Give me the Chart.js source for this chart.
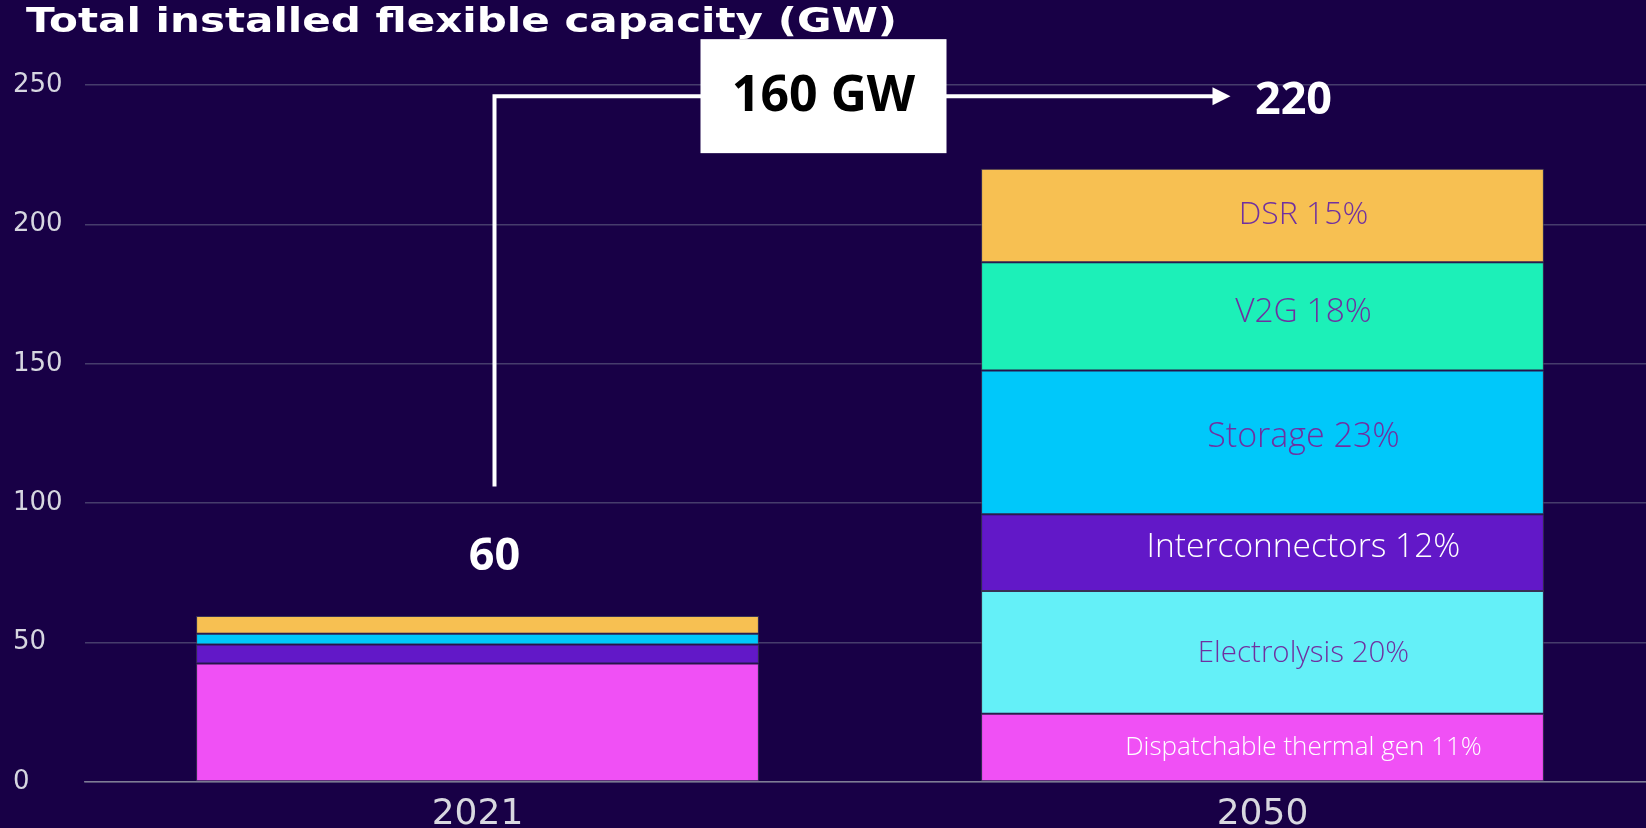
<!DOCTYPE html>
<html>
<head>
<meta charset="utf-8">
<script src="https://cdn.jsdelivr.net/npm/chart.js@4.4.1/dist/chart.umd.min.js"></script>
<style>
  html, body { margin: 0; padding: 0; background: #180046; overflow: hidden; }
  #chart { display: block; }
</style>
</head>
<body>
<canvas id="chart" width="1655" height="828"></canvas>
<script>
// data (GW)
var years = ['2021', '2050'];
var dispatchable = [42.5, 24.5];
var electrolysis = [0, 44];
var interconnectors = [6.8, 27.5];
var storage = [3.9, 51.6];
var v2g = [0, 38.8];
var dsr = [6.3, 33.6];
var yTicks = [0, 50, 100, 150, 200, 250];

var seriesNames = ['Dispatchable thermal gen', 'Electrolysis', 'Interconnectors', 'Storage', 'V2G', 'DSR'];
var shareLabels = ['Dispatchable thermal gen 11%', 'Electrolysis 20%', 'Interconnectors 12%', 'Storage 23%', 'V2G 18%', 'DSR 15%'];
var totalLabels = ['60', '220'];
var growthLabel = '160 GW';

var colors = ['#f050f5', '#64f0f8', '#6218c8', '#00c8fa', '#1cf0b8', '#f7c052'];
var labelColors = ['#ffffff', '#7030a0', '#ffffff', '#7030a0', '#7030a0', '#7030a0'];
var labelSizes = [26, 29.5, 33.5, 34, 33.5, 32];
var labelShift = [0, 1, -5, -5, -4, -1];

var bg = '#180046';

// background + title (stretched a little, like the original slide)
var backdrop = {
    id: 'backdrop',
    beforeDraw: function(chart) {
        var ctx = chart.ctx;
        var title = 'Total installed flexible capacity (GW)';
        ctx.save();
        ctx.fillStyle = bg;
        ctx.fillRect(0, 0, chart.width, chart.height);
        ctx.fillStyle = '#ffffff';
        ctx.font = 'bold 34px "DejaVu Sans"';
        ctx.textBaseline = 'middle';
        ctx.textAlign = 'left';
        var w = ctx.measureText(title).width;
        ctx.translate(26, 23);
        ctx.scale(871 / w, 1);
        ctx.fillText(title, 0, 0);
        ctx.restore();
    }
};

// segment labels, totals and the growth arrow
var annotate = {
    id: 'annotate',
    afterDatasetsDraw: function(chart) {
        var ctx = chart.ctx;
        var y = chart.scales.y;
        var bars0 = chart.getDatasetMeta(0).data;
        var x2021 = bars0[0].x, x2050 = bars0[1].x;
        ctx.save();

        // labels inside 2050 bar
        ctx.textAlign = 'center';
        ctx.textBaseline = 'middle';
        for (var i = 0; i < shareLabels.length; i++) {
            var bar = chart.getDatasetMeta(i).data[1];
            var cy = (bar.y + bar.base) / 2 + labelShift[i];
            ctx.fillStyle = labelColors[i];
            ctx.font = '300 ' + labelSizes[i] + 'px "Open Sans"';
            ctx.fillText(shareLabels[i], bar.x + 41, cy);
        }

        // connector line
        var lx = x2021 + 17;
        var ay = y.getPixelForValue(246);
        var tipX = x2050 - 32;
        ctx.strokeStyle = '#ffffff';
        ctx.lineWidth = 4;
        ctx.beginPath();
        ctx.moveTo(lx, y.getPixelForValue(106));
        ctx.lineTo(lx, ay);
        ctx.lineTo(tipX - 14, ay);
        ctx.stroke();
        ctx.fillStyle = '#ffffff';
        ctx.beginPath();
        ctx.moveTo(tipX, ay);
        ctx.lineTo(tipX - 18, ay - 9);
        ctx.lineTo(tipX - 18, ay + 9);
        ctx.closePath();
        ctx.fill();

        // growth box
        var bx = x2021 + 346;
        ctx.fillStyle = '#ffffff';
        ctx.fillRect(bx - 123, ay - 57, 246, 114);
        ctx.fillStyle = '#000000';
        ctx.font = 'bold 50px "Noto Sans"';
        ctx.fillText(growthLabel, bx, ay + 1);

        // totals
        ctx.fillStyle = '#ffffff';
        ctx.font = 'bold 45px "Noto Sans"';
        ctx.fillText(totalLabels[0], lx, y.getPixelForValue(80.5));
        ctx.fillText(totalLabels[1], x2050 + 31, y.getPixelForValue(244.3));
        ctx.restore();
    }
};

var datasets = [dispatchable, electrolysis, interconnectors, storage, v2g, dsr].map(function(vals, i) {
    return {
        label: seriesNames[i],
        data: vals,
        backgroundColor: colors[i],
        borderColor: 'rgba(70,70,90,0.7)',
        borderWidth: 1,
        borderSkipped: false,
        barPercentage: 0.717,
        categoryPercentage: 1.0
    };
});

new Chart(document.getElementById('chart'), {
    type: 'bar',
    data: { labels: years, datasets: datasets },
    options: {
        responsive: false,
        animation: false,
        layout: { padding: { top: 85, left: 13, right: 0, bottom: 0 } },
        plugins: {
            legend: { display: false },
            title: { display: false },
            tooltip: { enabled: false }
        },
        scales: {
            x: {
                stacked: true,
                grid: { display: false, drawTicks: false },
                border: { display: true, color: 'rgba(140,140,160,0.8)', width: 1.5 },
                ticks: { color: '#d8d8e0', font: { family: 'DejaVu Sans', size: 36 }, padding: 11 },
                afterFit: function(s) { s.height = 46; }
            },
            y: {
                stacked: true,
                min: 0,
                max: 250,
                afterBuildTicks: function(s) { s.ticks = yTicks.map(function(v) { return { value: v }; }); },
                grid: { color: 'rgba(110,110,140,0.55)', lineWidth: 1.5, drawTicks: false },
                border: { display: false },
                ticks: { color: '#d6d6e0', font: { family: 'DejaVu Sans', size: 26 }, padding: 18, crossAlign: 'far' },
                afterFit: function(s) { s.width = 72; }
            }
        }
    },
    plugins: [backdrop, annotate]
});
</script>
</body>
</html>
